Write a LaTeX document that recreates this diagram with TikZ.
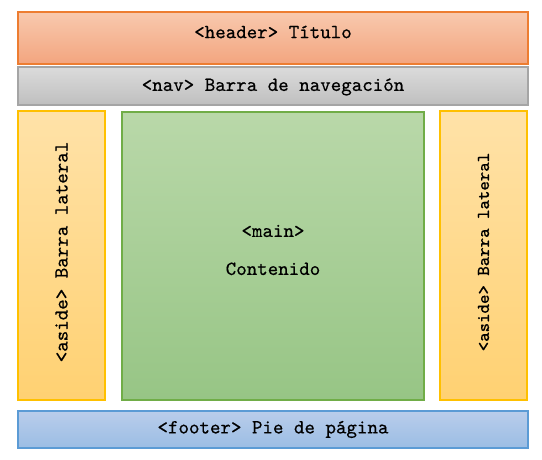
\documentclass[tikz,border=0pt]{standalone}
\usepackage{tikz}
\usepackage{fontspec}
\newfontfamily\boxfont{Latin Modern Mono}[FakeBold=0.5]
\definecolor{cf8c9ae}{RGB}{248,201,174}
\definecolor{cf3a57f}{RGB}{243,165,127}
\definecolor{ced7d31}{RGB}{237,125,49}
\definecolor{cdbdbdb}{RGB}{219,219,219}
\definecolor{cbfbfbf}{RGB}{191,191,191}
\definecolor{ca5a5a5}{RGB}{165,165,165}
\definecolor{cffe2a8}{RGB}{255,226,168}
\definecolor{cffd172}{RGB}{255,209,114}
\definecolor{cffc000}{RGB}{255,192,0}
\definecolor{cb9d8a9}{RGB}{185,216,169}
\definecolor{c97c585}{RGB}{151,197,133}
\definecolor{c70ad47}{RGB}{112,173,71}
\definecolor{cb9cdeb}{RGB}{185,205,235}
\definecolor{c9bbde4}{RGB}{155,189,228}
\definecolor{c5b9bd5}{RGB}{91,155,213}

\begin{document}
\begin{tikzpicture}[y=0.5pt, x=0.5pt, yscale=-1, inner sep=0pt, outer sep=0pt,
  font=\boxfont,
  block/.style={rectangle, line width=0.6pt, shading=axis, shading angle=0},
  hdr/.style={block, draw=ced7d31, top color=cf8c9ae, bottom color=cf3a57f},
  navbar/.style={block, draw=ca5a5a5, top color=cdbdbdb, bottom color=cbfbfbf},
  side/.style={block, draw=cffc000, top color=cffe2a8, bottom color=cffd172},
  mainbox/.style={block, draw=c70ad47, top color=cb9d8a9, bottom color=c97c585},
  ftr/.style={block, draw=c5b9bd5, top color=cb9cdeb, bottom color=c9bbde4}]
  \useasboundingbox (0,0) rectangle (542,460);
  % header and nav
  \node[hdr, minimum width=255pt, minimum height=26pt] (header) at (273,38) {};
  \node (header-text) at (273,32) {<header> Título};
  \node[navbar, minimum width=255pt, minimum height=19pt] (nav) at (273,86) {};
  \node (nav-text) at (273,87) {<nav> Barra de navegación};
  % asides and main
  \node[side, minimum width=43.5pt, minimum height=144.5pt] (asideL) at (61.5,255.5) {};
  \node[rotate=90] (asideL-text) at (61.5,252) {<aside> Barra lateral};
  \node[mainbox, minimum width=151pt, minimum height=144pt] (main) at (273,256) {};
  \node[align=center] (main-text) at (273,250) {<main>\\[7pt]Contenido};
  \node[side, minimum width=43.5pt, minimum height=144.5pt] (asideR) at (483.5,255.5) {};
  \node[rotate=90, font=\boxfont\small] (asideR-text) at (483.5,252) {<aside> Barra lateral};
  % footer
  \node[ftr, minimum width=255pt, minimum height=18.5pt] (footer) at (273,429.5)
    {<footer> Pie de página};

\end{tikzpicture}
\end{document}
